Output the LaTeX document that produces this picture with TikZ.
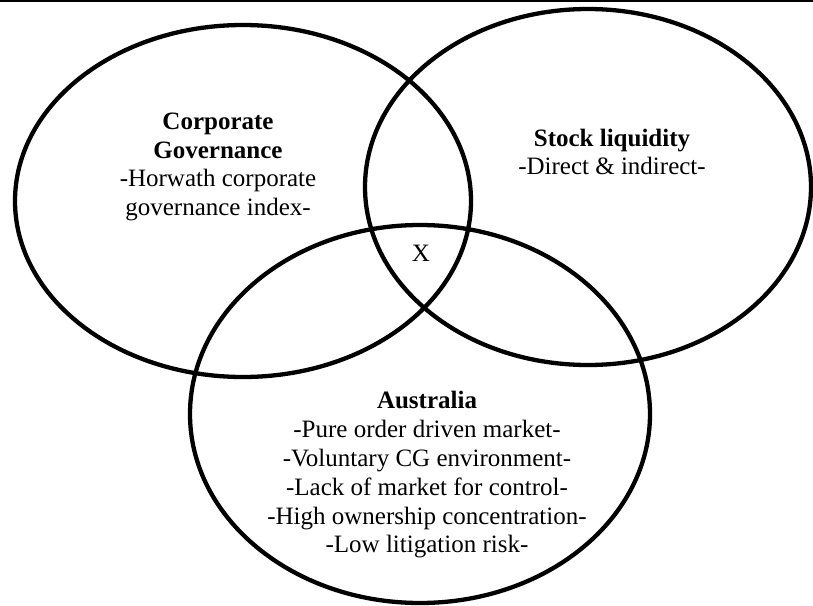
\documentclass[tikz,border=0pt]{standalone}
\usepackage{fontspec}
\setmainfont{Liberation Serif}
\begin{document}
\begin{tikzpicture}[x=1pt,y=-1pt,line width=4.3pt,
  vtext/.style={align=center,inner sep=0pt,font=\fontsize{25}{28.8}\selectfont}]
\useasboundingbox (0,0) rectangle (813,605);
\draw [line width=2.5pt] (0,1.2) -- (813,1.2);
\draw (243,201) ellipse [x radius=228pt, y radius=176pt];
\draw (588,187) ellipse [x radius=223pt, y radius=178pt];
\draw (420,414) ellipse [x radius=230pt, y radius=189pt];
\node [vtext] (cg) at (218,167) {\textbf{Corporate}\\\textbf{Governance}\\-Horwath corporate\\governance index-};
\node [vtext] (sl) at (612,152) {\textbf{Stock liquidity}\\-Direct \& indirect-};
\node [vtext] (x) at (421,253) {X};
\node [vtext] (au) at (427,475) {\textbf{Australia}\\-Pure order driven market-\\-Voluntary CG environment-\\-Lack of market for control-\\-High ownership concentration-\\-Low litigation risk-};
\end{tikzpicture}
\end{document}
